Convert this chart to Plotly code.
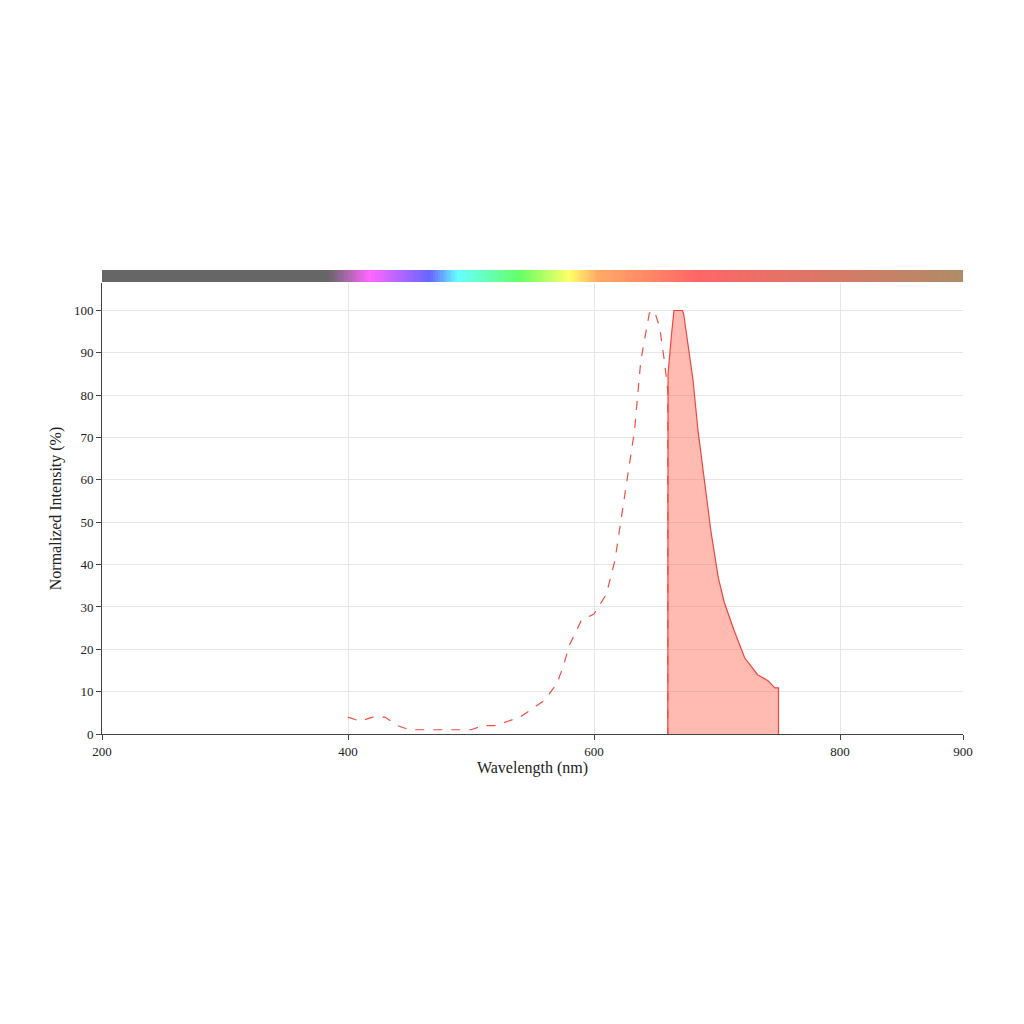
import plotly.graph_objects as go
import numpy as np

ex_x = [400,410,420,430,440,450,460,470,480,490,500,510,520,530,540,550,560,570,575,580,590,600,610,617,627.6,633,638,645,649,653.4,657.5,660,660]
ex_y = [4,3,4,4,2,1,1,1,1,1,1,2,2,3,4,6,8,12,16,21,27,28.3,33,41,62,71.8,88,99.4,100,96,87.5,81,0]
em_x = [660,660.2,662.9,665,667,672,673,676.4,680.5,684.5,690,695,701,706,714,722.5,733,741.5,747,750,750]
em_y = [0,85,94,100,100,100,99,92,83.6,71.8,59,48,37,31,24.4,18,14,12.6,10.9,10.9,0]

bar_x = list(range(200, 901, 2))
scale = [[0,"#666666"],[0.263,"#666666"],[0.311,"#ff66ff"],[0.381,"#6666ff"],[0.414,"#66ffff"],[0.486,"#66ff66"],[0.543,"#ffff66"],[0.576,"#ffaa66"],[0.691,"#ff6666"],[1,"#b08c66"]]

fig = go.Figure()
fig.add_trace(go.Scatter(x=ex_x, y=ex_y, mode="lines", line=dict(color="rgb(240,80,70)", width=1.2, dash="dash"), showlegend=False))
fig.add_trace(go.Scatter(x=em_x, y=em_y, mode="lines", fill="tozeroy", fillcolor="rgba(255,110,95,0.48)", line=dict(color="rgb(240,70,60)", width=1.2), showlegend=False))
fig.add_trace(go.Heatmap(x=bar_x, y=[0], z=[bar_x], colorscale=scale, showscale=False, xaxis="x", yaxis="y2", hoverinfo="skip"))

fig.update_layout(
    width=1024, height=1024, paper_bgcolor="white", plot_bgcolor="white",
    margin=dict(l=94, r=69, t=262, b=298),
    font=dict(family="Liberation Serif", size=13, color="#222"),
    xaxis=dict(range=[200,900], tickvals=[200,400,600,800,900], showgrid=True, gridcolor="#e6e6e6",
               showline=True, linecolor="#444", ticks="outside", ticklen=5, tickcolor="#444",
               title=dict(text="Wavelength (nm)", standoff=4), zeroline=False),
    yaxis=dict(domain=[0,0.972], range=[0,106.5], tickvals=list(range(0,101,10)), showgrid=True, gridcolor="#e6e6e6",
               showline=True, linecolor="#444", ticks="outside", ticklen=5, tickcolor="#444",
               title=dict(text="Normalized Intensity (%)", standoff=8), zeroline=False),
    yaxis2=dict(domain=[0.974,1], showticklabels=False, showgrid=False, zeroline=False, range=[-0.5,0.5]),
)
fig.write_html("out.html")
